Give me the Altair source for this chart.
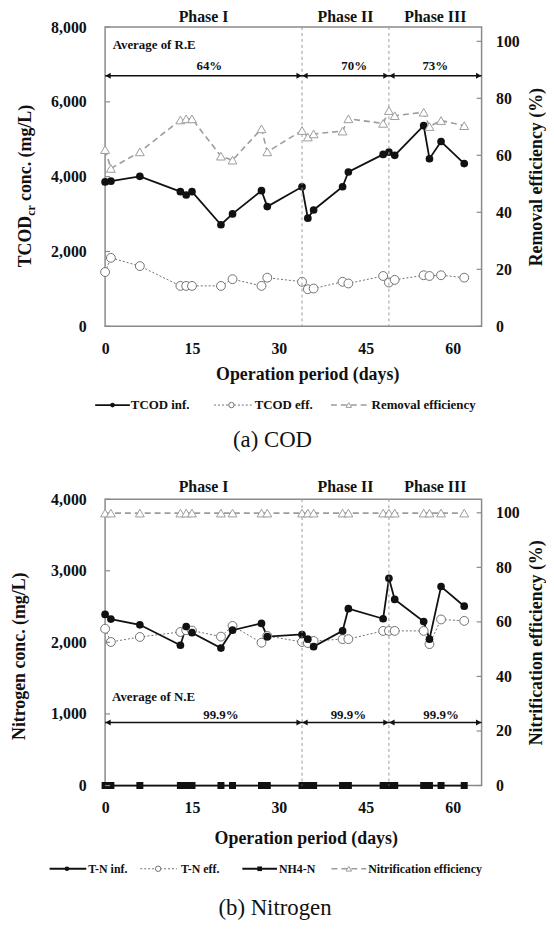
import altair as alt
import pandas as pd

# ---------------- data ----------------
days = [0, 1, 6, 13, 14, 15, 20, 22, 27, 28, 34, 35, 36, 41, 42, 48, 49, 50, 55, 56, 58, 62]
tcod_inf = [3860, 3880, 4010, 3600, 3510, 3600, 2715, 3005, 3625, 3200, 3730, 2890, 3110,
            3730, 4125, 4595, 4655, 4570, 5365, 4480, 4940, 4350]
tcod_eff = [1450, 1830, 1610, 1080, 1080, 1080, 1080, 1260, 1080, 1300, 1190, 990, 1010,
            1190, 1145, 1345, 1170, 1240, 1365, 1345, 1365, 1300]
removal_eff = [62.0, 55.4, 61.2, 72.4, 72.8, 72.8, 59.7, 58.3, 69.3, 61.2, 68.7, 66.4, 67.5,
               68.5, 72.8, 71.2, 75.7, 73.9, 75.1, 70.1, 72.2, 70.4]
tn_inf = [2390, 2325, 2245, 1960, 2220, 2135, 1920, 2170, 2265, 2080, 2110, 2045, 1940,
          2160, 2470, 2330, 2895, 2600, 2290, 2045, 2780, 2505]
tn_eff = [2190, 2005, 2075, 2145, 2170, 2165, 2080, 2230, 1995, 2090, 2005, 1990, 2020,
          2045, 2045, 2160, 2160, 2160, 2160, 1975, 2320, 2300]
nh4_n = [0, 0, 0, 0, 0, 0, 0, 0, 0, 0, 0, 0, 0, 0, 0, 0, 0, 0, 0, 0, 0, 0]
nitrif_eff = [99.9, 99.9, 99.9, 99.9, 99.9, 99.9, 99.9, 99.9, 99.9, 99.9, 99.9, 99.9, 99.9,
              99.9, 99.9, 99.9, 99.9, 99.9, 99.9, 99.9, 99.9, 99.9]

phase_names = ["Phase I", "Phase II", "Phase III"]
phase_start = [0, 34, 49]
phase_end = [34, 49, 65]
phase_bounds = [34, 49]
phase_label_day = [17, 41.5, 57]
re_avg = ["64%", "70%", "73%"]
re_label_day = [18, 43, 57]
re_arrow_level = 6700
re_title = "Average of R.E"
re_title_pos = [1.3, 7530]
ne_avg = ["99.9%", "99.9%", "99.9%"]
ne_label_day = [20, 42, 58]
ne_arrow_level = 880
ne_title = "Average of N.E"
ne_title_pos = [1.2, 1240]

x_ticks = [0, 15, 30, 45, 60]
cod_ticks = [0, 2000, 4000, 6000, 8000]
n_ticks = [0, 1000, 2000, 3000, 4000]
pct_ticks = [0, 20, 40, 60, 80, 100]

cod_legend = ["TCOD inf.", "TCOD eff.", "Removal efficiency"]
n_legend = ["T-N inf.", "T-N eff.", "NH4-N", "Nitrification efficiency"]
captions = ["(a) COD", "(b) Nitrogen"]

# ---------------- style ----------------
FONT = "Liberation Serif"
BLACK = "#111111"
GRAY_DOT = "#707070"
GRAY_TRI = "#9c9c9c"
FRAME = "#8a8a8a"
W = 380
H_TOP = 302
H_BOT = 289

xscale = alt.Scale(domain=[0, 65], nice=False, zero=False)
cod_scale = alt.Scale(domain=[0, 8000], nice=False)
n_scale = alt.Scale(domain=[0, 4000], nice=False)
pct_scale = alt.Scale(domain=[0, 105], nice=False)

label_style = dict(labelFont=FONT, labelFontSize=16, labelFontWeight="bold", labelColor=BLACK,
                   ticks=False, domain=False, grid=False, labelOverlap=False, labelFlush=False)
title_style = dict(titleFont=FONT, titleFontSize=18, titleFontWeight="bold", titleColor=BLACK,
                   titleAlign="center", titleBaseline="middle")


def x_axis(tx, ty):
    return alt.Axis(values=x_ticks, title="Operation period (days)", titleX=tx, titleY=ty,
                    labelPadding=14, **label_style, **title_style)


def txt(size=13, weight="bold", **kw):
    return dict(font=FONT, fontSize=size, fontWeight=weight, color=BLACK, **kw)


one = pd.DataFrame({"k": [0]})

INF_LINE = dict(color=BLACK, strokeWidth=1.8)
INF_PT = dict(shape="circle", filled=True, color=BLACK, size=60, opacity=1)
EFF_LINE = dict(color=GRAY_DOT, strokeWidth=1, strokeDash=[2, 2])
EFF_PT = dict(shape="circle", filled=True, fill="white", stroke=GRAY_DOT, strokeWidth=1, size=80, opacity=1)
TRI_LINE = dict(color=GRAY_TRI, strokeWidth=1.6, strokeDash=[6, 4])
TRI_PT = dict(shape="triangle-up", filled=True, fill="white", stroke=GRAY_TRI, strokeWidth=1, size=80, opacity=1)
SQ_LINE = dict(color=BLACK, strokeWidth=1.8)
SQ_PT = dict(shape="square", filled=True, color=BLACK, size=50, opacity=1)


def legend_item(x1, x2, y, cx, tx, label, line_kw, point_kw, size):
    line = alt.Chart(one).mark_rule(**line_kw).encode(
        x=alt.value(x1), x2=alt.value(x2), y=alt.value(y))
    pt = alt.Chart(one).mark_point(**point_kw).encode(x=alt.value(cx), y=alt.value(y))
    tt = alt.Chart(one).mark_text(align="left", baseline="middle", **txt(size)).encode(
        x=alt.value(tx), y=alt.value(y), text=alt.value(label))
    return [line, pt, tt]


def build_panel(df, series, left_scale, left_axis, right_axis, left_ticks, xaxis,
                level, avg_labels, avg_days, title_text, title_pos, phase_y, label_dy,
                extra_layers, height):
    def X(field):
        return alt.X(field, type="quantitative", scale=xscale, axis=xaxis)

    def YL(field):
        return alt.Y(field, type="quantitative", scale=left_scale, axis=left_axis)

    def YR(field):
        return alt.Y(field, type="quantitative", scale=pct_scale, axis=right_axis)

    bounds_df = pd.DataFrame({"day": phase_bounds})
    arrows = pd.DataFrame({"start": phase_start, "end": phase_end,
                           "level": [level] * 3, "label": avg_labels, "lab_day": avg_days})
    phases = pd.DataFrame({"lab_day": phase_label_day, "name": phase_names})
    title_df = pd.DataFrame({"d": [title_pos[0]], "v": [title_pos[1]], "t": [title_text]})
    ticks_l = pd.DataFrame({"v": left_ticks})
    ticks_r = pd.DataFrame({"v": pct_ticks})

    left = []
    for field, lkw, pkw in series:
        left.append(alt.Chart(df).mark_line(**lkw).encode(x=X("day:Q"), y=YL(field)))
    for field, lkw, pkw in series:
        left.append(alt.Chart(df).mark_point(**pkw).encode(x=X("day:Q"), y=YL(field)))
    left += [
        alt.Chart(ticks_l).mark_rule(color=FRAME, strokeWidth=1.2).encode(
            x=alt.value(0), x2=alt.value(5), y=YL("v:Q")),
        alt.Chart(bounds_df).mark_rule(color="#9a9a9a", strokeWidth=1, strokeDash=[3, 3]).encode(
            x=X("day:Q")),
        alt.Chart(arrows).mark_rule(color=BLACK, strokeWidth=1.5).encode(
            x=X("start:Q"), x2="end:Q", y=YL("level:Q")),
        alt.Chart(arrows).mark_point(shape="triangle-left", filled=True, color=BLACK, size=38,
                                     opacity=1, xOffset=3).encode(x=X("start:Q"), y=YL("level:Q")),
        alt.Chart(arrows).mark_point(shape="triangle-right", filled=True, color=BLACK, size=38,
                                     opacity=1, xOffset=-3).encode(x=X("end:Q"), y=YL("level:Q")),
        alt.Chart(arrows).mark_text(baseline="middle", dy=label_dy, **txt(13)).encode(
            x=X("lab_day:Q"), y=YL("level:Q"), text="label:N"),
        alt.Chart(title_df).mark_text(align="left", baseline="middle", **txt(13)).encode(
            x=X("d:Q"), y=YL("v:Q"), text="t:N"),
        alt.Chart(phases).mark_text(baseline="middle", **txt(16)).encode(
            x=X("lab_day:Q"), y=alt.value(phase_y), text="name:N"),
    ]
    left += extra_layers

    right = [
        alt.Chart(df).mark_line(**TRI_LINE).encode(x=X("day:Q"), y=YR("pct:Q")),
        alt.Chart(ticks_r).mark_rule(color=FRAME, strokeWidth=1.2).encode(
            x=alt.value(W - 5), x2=alt.value(W), y=YR("v:Q")),
        alt.Chart(df).mark_point(**TRI_PT).encode(x=X("day:Q"), y=YR("pct:Q")),
    ]
    return alt.layer(alt.layer(*left), alt.layer(*right)).resolve_scale(
        y="independent").properties(width=W, height=height)


# ================= (a) COD =================
cod_df = pd.DataFrame({"day": days, "inf": tcod_inf, "eff": tcod_eff, "pct": removal_eff})

left_axis_top = alt.Axis(values=cod_ticks, format=",.0f", title=None, labelPadding=19, **label_style)
right_axis_top = alt.Axis(orient="right", values=pct_ticks, format="d", title="Removal efficiency (%)",
                          titleAngle=270, titleX=55, titleY=H_TOP / 2, labelPadding=14,
                          **label_style, **title_style)

LT_X = -80
top_extra = [
    # left axis title with a subscript, built from text pieces
    alt.Chart(one).mark_text(align="left", baseline="middle", angle=270, **txt(18)).encode(
        x=alt.value(LT_X), y=alt.value(242.5), text=alt.value("TCOD")),
    alt.Chart(one).mark_text(align="left", baseline="middle", angle=270, **txt(12)).encode(
        x=alt.value(LT_X + 5), y=alt.value(190.5), text=alt.value("cr")),
    alt.Chart(one).mark_text(align="left", baseline="middle", angle=270, **txt(18)).encode(
        x=alt.value(LT_X), y=alt.value(175.5), text=alt.value("conc. (mg/L)")),
]
LY = 381.5
top_extra += legend_item(-10, 25, LY, 7.5, 26, cod_legend[0], INF_LINE, dict(INF_PT, size=22), 13)
top_extra += legend_item(110, 149, LY, 127.5, 151, cod_legend[1], EFF_LINE, dict(EFF_PT, size=30), 13)
top_extra += legend_item(228, 265, LY, 246, 269, cod_legend[2], TRI_LINE, dict(TRI_PT, size=30), 13)
top_extra.append(
    alt.Chart(one).mark_text(align="center", baseline="middle", **txt(23, "normal")).encode(
        x=alt.value(169), y=alt.value(417), text=alt.value(captions[0])))

top = build_panel(
    cod_df, [("eff:Q", EFF_LINE, EFF_PT), ("inf:Q", INF_LINE, INF_PT)],
    cod_scale, left_axis_top, right_axis_top, cod_ticks, x_axis(204, 48.5),
    re_arrow_level, re_avg, re_label_day, re_title, re_title_pos, -10, -10,
    top_extra, H_TOP)

# ================= (b) Nitrogen =================
n_df = pd.DataFrame({"day": days, "inf": tn_inf, "eff": tn_eff, "nh4": nh4_n, "pct": nitrif_eff})

left_axis_bot = alt.Axis(values=n_ticks, format=",.0f", title="Nitrogen conc. (mg/L)",
                         titleAngle=270, titleX=-86, titleY=158, labelPadding=19,
                         **label_style, **title_style)
right_axis_bot = alt.Axis(orient="right", values=pct_ticks, format="d",
                          title="Nitrification efficiency (%)",
                          titleAngle=270, titleX=55, titleY=H_BOT / 2, labelPadding=14,
                          **label_style, **title_style)

LY2 = 373
bot_extra = []
bot_extra += legend_item(-56, -19, LY2, -38.5, -17, n_legend[0], INF_LINE, dict(INF_PT, size=22), 12)
bot_extra += legend_item(35.5, 72.5, LY2, 53.5, 76.5, n_legend[1], EFF_LINE, dict(EFF_PT, size=30), 12)
bot_extra += legend_item(138.5, 173.5, LY2, 156, 175.5, n_legend[2], SQ_LINE, dict(SQ_PT, size=22), 12)
bot_extra += legend_item(228.5, 263.5, LY2, 246, 265.5, n_legend[3], TRI_LINE, dict(TRI_PT, size=30), 12)
bot_extra.append(
    alt.Chart(one).mark_text(align="center", baseline="middle", **txt(23, "normal")).encode(
        x=alt.value(171.5), y=alt.value(413), text=alt.value(captions[1])))

bottom = build_panel(
    n_df, [("eff:Q", EFF_LINE, EFF_PT), ("inf:Q", INF_LINE, INF_PT), ("nh4:Q", SQ_LINE, SQ_PT)],
    n_scale, left_axis_bot, right_axis_bot, n_ticks, x_axis(202.5, 54),
    ne_arrow_level, ne_avg, ne_label_day, ne_title, ne_title_pos, -12, -8,
    bot_extra, H_BOT)

chart = alt.vconcat(top, bottom, spacing=174.5, bounds="flush").properties(
    padding={"left": 2, "top": -4, "right": 0, "bottom": -3},
    background="white",
).configure_view(stroke=FRAME, strokeWidth=1.5)

chart.save("out.html", embed_options={"renderer": "svg", "actions": False})
